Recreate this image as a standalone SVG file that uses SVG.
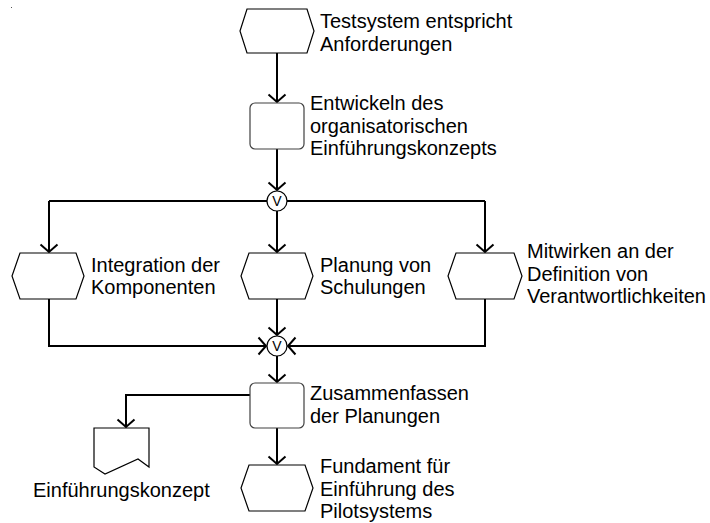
<svg xmlns="http://www.w3.org/2000/svg" width="710" height="523" viewBox="0 0 710 523">
  <style>
    .ev { fill: #ffffff; stroke: #000000; stroke-width: 1.2; }
    .fn { fill: #ffffff; stroke: #404040; stroke-width: 1.2; }
    .op { fill: #ffffff; stroke: #000000; stroke-width: 1.2; }
    .doc { fill: #ffffff; stroke: #000000; stroke-width: 1.2; }
    .ln { fill: none; stroke: #000000; stroke-width: 2; }
    .arr { fill: none; stroke: #000000; stroke-width: 2; marker-end: url(#open); }
    text { font-family: "Liberation Sans", Arial, sans-serif; font-size: 20px; fill: #000000; }
    .opv { font-size: 14px; text-anchor: middle; }
  </style>
  <defs>
    <marker id="open" markerUnits="userSpaceOnUse" markerWidth="20" markerHeight="20" viewBox="-10 -10 20 20" refX="0" refY="0" orient="auto">
      <path d="M-7.5,-8.5 L0,0 L-7.5,8.5" fill="none" stroke="#000000" stroke-width="2"/>
    </marker>
  </defs>

  <rect x="11" y="7" width="1" height="1" fill="#555555"/>

  <!-- connectors -->
  <g id="connectors">
    <path class="arr" d="M277,53 V102"/>
    <path class="arr" d="M277,149 V190"/>
    <path class="ln" d="M267,201 H49"/>
    <path class="ln" d="M287,201 H485"/>
    <path class="arr" d="M49,201 V252"/>
    <path class="arr" d="M277,211 V252"/>
    <path class="arr" d="M485,201 V252"/>
    <path class="arr" d="M49,299 V346 H266"/>
    <path class="arr" d="M277,299 V335"/>
    <path class="arr" d="M485,299 V346 H288"/>
    <path class="arr" d="M277,356 V382"/>
    <path class="arr" d="M250,395 H126 V427"/>
    <path class="arr" d="M277,428 V464"/>
  </g>

  <!-- start event -->
  <g id="ev-testsystem">
    <polygon class="ev" points="247,9 307,9 314,31 307,53 247,53 240,31"/>
    <text x="320" y="28">Testsystem entspricht</text>
    <text x="320" y="50.5">Anforderungen</text>
  </g>

  <g id="fn-entwickeln">
    <rect class="fn" x="250" y="103" width="54" height="46" rx="5"/>
    <text x="310" y="110">Entwickeln des</text>
    <text x="310" y="132.5">organisatorischen</text>
    <text x="310" y="155">Einführungskonzepts</text>
  </g>

  <g id="op-split">
    <circle class="op" cx="277" cy="201" r="10"/>
    <text class="opv" x="277" y="206">V</text>
  </g>

  <g id="ev-integration">
    <polygon class="ev" points="20,253 76,253 84,276 76,299 20,299 12,276"/>
    <text x="91" y="271.5">Integration der</text>
    <text x="91" y="294">Komponenten</text>
  </g>

  <g id="ev-planung">
    <polygon class="ev" points="249,253 305,253 313,276 305,299 249,299 241,276"/>
    <text x="320" y="271.5">Planung von</text>
    <text x="320" y="294">Schulungen</text>
  </g>

  <g id="ev-mitwirken">
    <polygon class="ev" points="456,253 514,253 522,276 514,299 456,299 448,276"/>
    <text x="527" y="258">Mitwirken an der</text>
    <text x="527" y="280.5">Definition von</text>
    <text x="527" y="303">Verantwortlichkeiten</text>
  </g>

  <g id="op-join">
    <circle class="op" cx="277" cy="346" r="10"/>
    <text class="opv" x="277" y="351">V</text>
  </g>

  <g id="fn-zusammenfassen">
    <rect class="fn" x="250" y="383" width="54" height="45" rx="5"/>
    <text x="310" y="400">Zusammenfassen</text>
    <text x="310" y="422.5">der Planungen</text>
  </g>

  <g id="doc-konzept">
    <path class="doc" d="M94,428 H149 V467 L138,459 L105,474 L94,467 Z"/>
    <text x="33" y="497">Einführungskonzept</text>
  </g>

  <g id="ev-fundament">
    <polygon class="ev" points="249,465 305,465 313,488 305,511 249,511 241,488"/>
    <text x="320" y="473">Fundament für</text>
    <text x="320" y="495.5">Einführung des</text>
    <text x="320" y="518">Pilotsystems</text>
  </g>
</svg>
